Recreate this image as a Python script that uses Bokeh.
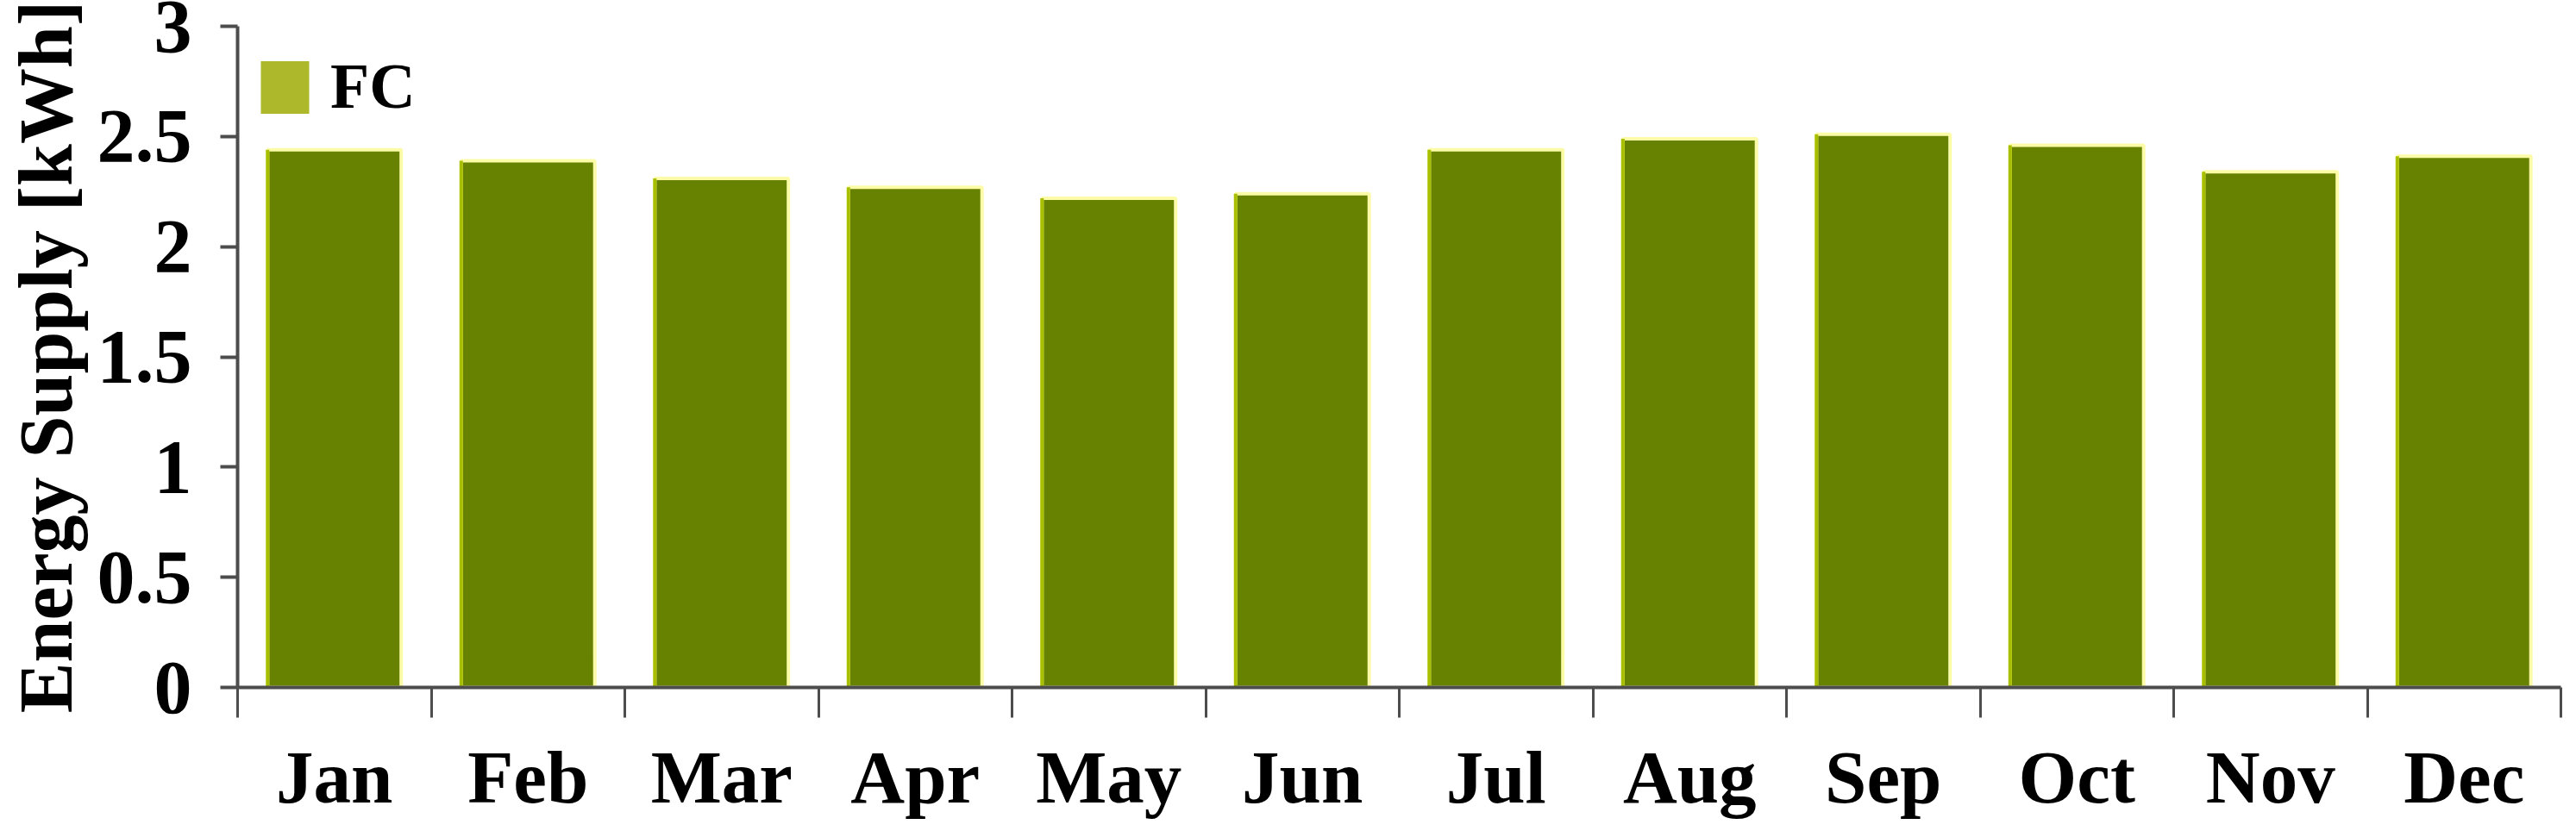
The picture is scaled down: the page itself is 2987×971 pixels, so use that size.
from bokeh.plotting import figure
from bokeh.models import (Range1d, FixedTicker, Legend, LegendItem, ColumnDataSource)
from bokeh.transform import dodge
from bokeh.embed import file_html
from bokeh.resources import INLINE

# ---- data ----
months = ["Jan", "Feb", "Mar", "Apr", "May", "Jun", "Jul", "Aug", "Sep", "Oct", "Nov", "Dec"]
fc_supply = [2.44, 2.39, 2.31, 2.27, 2.22, 2.24, 2.44, 2.49, 2.51, 2.46, 2.34, 2.41]
y_ticks = [0, 0.5, 1, 1.5, 2, 2.5, 3]
y_tick_labels = ["0", "0.5", "1", "1.5", "2", "2.5", "3"]
series_name = "FC"
y_title = "Energy Supply [kWh]"

FONT = "Liberation Serif"
AXIS_COLOR = "#4d4d4d"

n = len(months)
centers = [i + 0.5 for i in range(n)]
bounds = list(range(n + 1))

src = ColumnDataSource(dict(x=centers, top=fc_supply, month=months))

p = figure(width=2980, height=965, output_backend="svg", toolbar_location=None,
           x_range=Range1d(0, n), y_range=Range1d(0, 3),
           min_border_left=275, min_border_right=11, min_border_top=30,
           min_border_bottom=168)
p.outline_line_color = None
p.background_fill_color = "white"
p.xgrid.visible = False
p.ygrid.visible = False

BAR_W = 0.69
# legend swatch renderer (lighter olive in the original legend); hidden under the bars
swatch = p.vbar(x="x", top="top", width=BAR_W, bottom=0, source=src,
                fill_color="#adb82a", line_color=None)
p.vbar(x="x", top="top", width=BAR_W, bottom=0, source=src,
       fill_color="#678200", line_color="#fbfba8", line_width=4)
p.segment(x0=dodge("x", -BAR_W / 2), y0=0, x1=dodge("x", -BAR_W / 2), y1="top",
          source=src, line_color="#a8bf00", line_width=4)

legend = Legend(items=[LegendItem(label=series_name, renderers=[swatch])],
                location=(20, 654), margin=0, padding=0,
                glyph_width=70, glyph_height=76, label_standoff=18,
                label_text_font=FONT, label_text_font_style="bold",
                label_text_font_size="74px", label_text_color="black",
                background_fill_alpha=0, border_line_color=None)
p.add_layout(legend)

# x axis: ticks on category boundaries, labels at centres
xa = p.xaxis[0]
xa.ticker = FixedTicker(ticks=centers, minor_ticks=bounds)
xa.major_label_overrides = {c: m for c, m in zip(centers, months)}
xa.major_tick_line_color = None
xa.major_tick_out = 35
xa.major_tick_in = 0
xa.minor_tick_out = 35
xa.minor_tick_in = 0
xa.minor_tick_line_color = AXIS_COLOR
xa.minor_tick_line_width = 3
xa.axis_line_color = AXIS_COLOR
xa.axis_line_width = 4
xa.major_label_standoff = 20
xa.major_label_text_font = FONT
xa.major_label_text_font_style = "bold"
xa.major_label_text_font_size = "87px"
xa.major_label_text_color = "black"

ya = p.yaxis[0]
ya.ticker = FixedTicker(ticks=y_ticks)
ya.major_label_overrides = {t: l for t, l in zip(y_ticks, y_tick_labels)}
ya.major_tick_out = 20
ya.major_tick_in = 0
ya.major_tick_line_color = AXIS_COLOR
ya.major_tick_line_width = 4
ya.minor_tick_line_color = None
ya.axis_line_color = AXIS_COLOR
ya.axis_line_width = 4
ya.major_label_standoff = 33
ya.major_label_text_font = FONT
ya.major_label_text_font_style = "bold"
ya.major_label_text_font_size = "88px"
ya.major_label_text_color = "black"
ya.axis_label = y_title
ya.axis_label_text_font = FONT
ya.axis_label_text_font_style = "bold"
ya.axis_label_text_font_size = "88px"
ya.axis_label_text_color = "black"
ya.axis_label_standoff = 8

open("out.html", "w").write(file_html(p, INLINE))
